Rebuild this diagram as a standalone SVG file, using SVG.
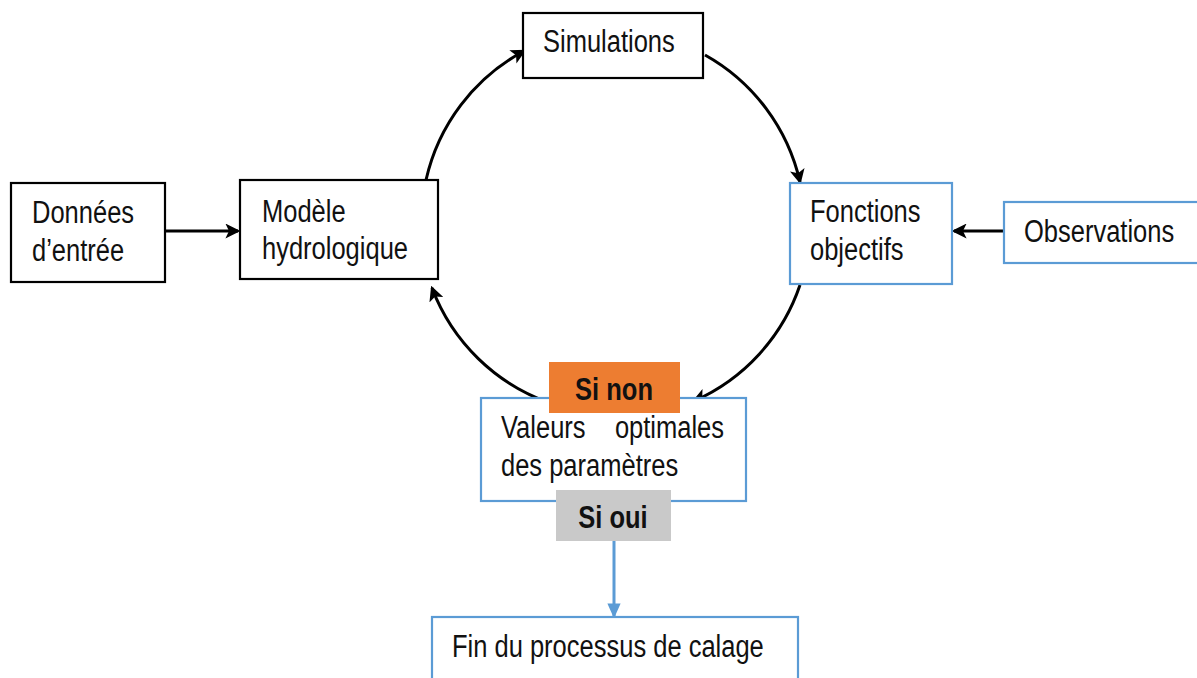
<svg xmlns="http://www.w3.org/2000/svg" width="1197" height="678" viewBox="0 0 1197 678">
<style>
.t{font-family:"Liberation Sans",Arial,sans-serif;font-size:25.5px;fill:#111}
.b{font-weight:bold;text-anchor:middle}
.bk{fill:#fff;stroke:#000;stroke-width:2.2}
.bl{fill:#fff;stroke:#5B9BD5;stroke-width:2.2}
.c{fill:none;stroke:#000;stroke-width:3}
.cb{fill:none;stroke:#5B9BD5;stroke-width:3}
</style>
<defs>
<marker id="ah" markerWidth="5" markerHeight="5" refX="4.2" refY="2.5" orient="auto" markerUnits="strokeWidth">
<path d="M0,0 L5,2.5 L0,5 L1.2,2.5 Z" fill="#000"/>
</marker>
<marker id="ahb" markerWidth="5" markerHeight="5" refX="4.2" refY="2.5" orient="auto" markerUnits="strokeWidth">
<path d="M0,0.3 L5,2.5 L0,4.7 Z" fill="#5B9BD5"/>
</marker>
</defs>
<rect width="1197" height="678" fill="#fff"/>
<g id="connectors">
<line class="c" x1="165" y1="231" x2="238" y2="231" marker-end="url(#ah)"/>
<line class="c" x1="1004" y1="231" x2="954" y2="231" marker-end="url(#ah)"/>
<path class="c" d="M426,180 A195 195 0 0 1 524,51" marker-end="url(#ah)"/>
<path class="c" d="M705,55 A195 195 0 0 1 800,182" marker-end="url(#ah)"/>
<path class="c" d="M800,285 A195 195 0 0 1 694,401" marker-end="url(#ah)"/>
<path class="c" d="M550,403 A195 195 0 0 1 432,288" marker-end="url(#ah)"/>
<line class="cb" x1="614" y1="541" x2="614" y2="616" marker-end="url(#ahb)"/>
</g>
<g id="donnees">
<rect class="bk" x="11" y="183" width="154" height="99"/>
<text class="t" transform="translate(32 223) scale(1 1.25)">Données</text>
<text class="t" transform="translate(32 261) scale(1 1.25)">d’entrée</text>
</g>
<g id="modele">
<rect class="bk" x="240" y="180" width="198" height="99"/>
<text class="t" transform="translate(262 222) scale(1 1.25)">Modèle</text>
<text class="t" transform="translate(262 259) scale(1 1.25)">hydrologique</text>
</g>
<g id="simulations">
<rect class="bk" x="523" y="13" width="180" height="65"/>
<text class="t" transform="translate(543 52) scale(1 1.25)">Simulations</text>
</g>
<g id="fonctions">
<rect class="bl" x="790" y="183" width="162" height="101"/>
<text class="t" transform="translate(810 222) scale(1 1.25)">Fonctions</text>
<text class="t" transform="translate(810 260) scale(1 1.25)">objectifs</text>
</g>
<g id="observations">
<rect class="bl" x="1004" y="202" width="195" height="61"/>
<text class="t" transform="translate(1024 242) scale(1 1.25)">Observations</text>
</g>
<g id="valeurs">
<rect class="bl" x="481" y="398" width="265" height="103"/>
<text class="t" transform="translate(501 438) scale(1 1.25)">Valeurs</text>
<text class="t" text-anchor="end" transform="translate(724 438) scale(1 1.25)">optimales</text>
<text class="t" transform="translate(501 476) scale(1 1.25)">des paramètres</text>
</g>
<g id="sinon">
<rect x="549" y="362" width="131" height="51" fill="#ED7D31"/>
<text class="t b" transform="translate(614 400) scale(1 1.25)">Si non</text>
</g>
<g id="sioui">
<rect x="556" y="490" width="115" height="51" fill="#C9C9C9"/>
<text class="t b" transform="translate(613 528) scale(1 1.25)">Si oui</text>
</g>
<g id="fin">
<rect class="bl" x="432" y="617" width="366" height="70"/>
<text class="t" transform="translate(452 657) scale(1 1.25)">Fin du processus de calage</text>
</g>
</svg>
